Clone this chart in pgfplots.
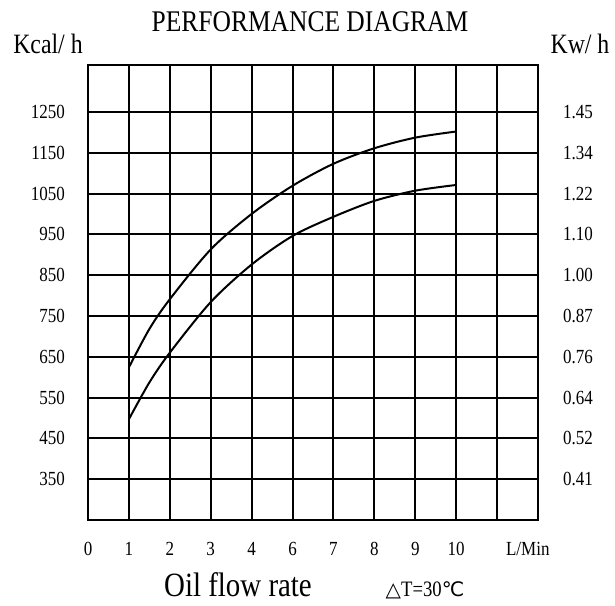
\documentclass[border=0pt]{standalone}
\usepackage{pgfplots}
\pgfplotsset{compat=1.18}
\usepackage{fontspec}
\setmainfont{Liberation Serif}[FakeStretch=0.85]
\newfontfamily\symfont{DejaVu Sans}

\newcommand{\fs}[1]{\fontsize{#1}{#1}\selectfont}

\begin{document}
\begin{tikzpicture}[x=1pt,y=1pt]
\path[use as bounding box] (-88,-85) rectangle (527,520);

\begin{axis}[
  at={(0,0)}, anchor=south west,
  scale only axis, width=450pt, height=455pt,
  xmin=0, xmax=11, ymin=250, ymax=1365,
  axis line style={line width=2.2pt},
  major tick length=0pt, minor tick length=0pt,
  xtick={0,1,...,9,10.75},
  xticklabels={0,1,2,3,4,6,7,8,9,10,L/Min},
  minor xtick={1,2,...,10},
  xminorgrids,
  ytick={350,450,...,1250},
  yticklabels={350,450,550,650,750,850,950,1050,1150,1250},
  ymajorgrids,
  major grid style={black, line width=2pt},
  minor grid style={black, line width=2pt},
  xticklabel style={anchor=base, inner sep=0pt, font=\fs{20}},
  xticklabel shift=35pt,
  yticklabel style={anchor=east, inner sep=0pt, font=\fs{20}},
  yticklabel shift=23pt,
]
% upper curve
\addplot[black, line width=2pt, smooth] coordinates {
  (1,624) (1.5,718) (2,791) (3,913) (4,1000)
  (5,1069) (6,1123) (7,1161) (8,1187) (9,1202)
};
% lower curve
\addplot[black, line width=2pt, smooth] coordinates {
  (1,497) (1.5,587) (2,660) (3,784) (4,876) (5,946) (6,993)
  (7,1032) (8,1057) (9,1071)
};
\end{axis}

\begin{axis}[
  at={(0,0)}, anchor=south west,
  scale only axis, width=450pt, height=455pt,
  xmin=0, xmax=11, ymin=250, ymax=1365,
  hide x axis, axis y line*=right,
  axis line style={draw=none},
  major tick length=0pt,
  ytick={350,450,...,1250},
  yticklabels={0.41,0.52,0.64,0.76,0.87,1.00,1.10,1.22,1.34,1.45},
  yticklabel style={anchor=west, inner sep=0pt, font=\fs{20}},
  yticklabel shift=25pt,
]
\end{axis}

\node[font=\fs{30}] at (222,498) {PERFORMANCE DIAGRAM};
\node[font=\fs{28}] at (-40,476) {Kcal/ h};
\node[font=\fs{28}] at (492,476) {Kw/ h};
\node[font=\fs{34}] at (150,-65) {Oil flow rate};
\node[font=\fs{22}] at (337,-70) {{\symfont\fs{20}△}T=30{\symfont\fs{20}℃}};
\end{tikzpicture}
\end{document}
